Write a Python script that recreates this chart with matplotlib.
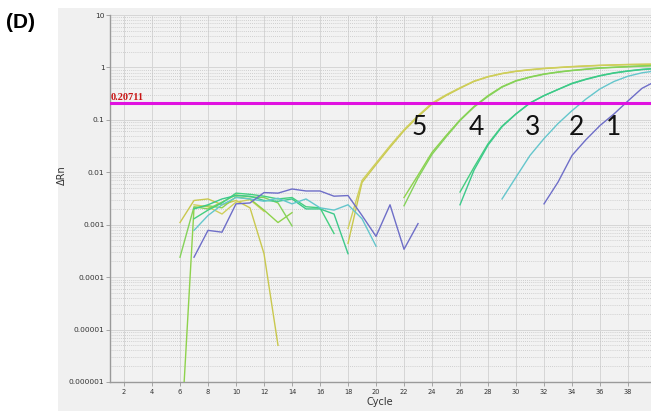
import numpy as np
import matplotlib
matplotlib.use('Agg')
import matplotlib.pyplot as plt
from matplotlib.patches import Rectangle
from matplotlib.ticker import FixedLocator, LogLocator, MultipleLocator, NullFormatter

# cycles 6 .. 40, None = no point (gap in the trace)
cycles = list(range(6, 41))

dil5_a = [0.0011, 0.0029, 0.0031, 0.0024, 0.0029, 0.0021, 0.00028, 0.000005,
          None, None, None, None, 0.00044, 0.0064, 0.014, 0.030, 0.062, 0.115,
          0.20, 0.29, 0.40, 0.54, 0.66, 0.76, 0.84, 0.90, 0.95, 0.99, 1.03,
          1.06, 1.09, 1.11, 1.13, 1.14, 1.15]
dil5_b = [None, 0.0024, 0.0022, 0.0016, 0.0027, 0.0030, 0.0018, None,
          None, None, None, None, 0.00085, 0.0070, 0.015, 0.032, 0.065, 0.12,
          0.21, 0.30, 0.41, 0.55, 0.67, 0.77, 0.85, 0.91, 0.96, 1.00, 1.04,
          1.07, 1.10, 1.12, 1.14, 1.15, 1.16]
dil4_a = [4e-8, 0.0021, 0.0023, 0.0021, 0.0034, 0.0031, 0.0019, 0.0011,
          0.0017, None, None, None, None, None, None, None, 0.0033, 0.0088,
          0.024, 0.050, 0.10, 0.18, 0.29, 0.43, 0.56, 0.66, 0.75, 0.82, 0.88,
          0.93, 0.98, 1.01, 1.04, 1.07, 1.09]
dil4_b = [0.00024, 0.0022, 0.0020, 0.0027, 0.0037, 0.0034, 0.0033, 0.0026,
          0.00095, None, None, None, None, None, None, None, 0.0023, 0.0078,
          0.022, 0.047, 0.097, 0.175, 0.28, 0.42, 0.55, 0.65, 0.74, 0.81,
          0.87, 0.92, 0.97, 1.00, 1.03, 1.06, 1.08]
dil3_a = [None, 0.0013, 0.0019, 0.0026, 0.0040, 0.0038, 0.0035, 0.0031,
          0.0033, 0.0022, 0.0021, 0.00068, None, None, None, None, None, None,
          None, None, 0.0042, 0.0125, 0.035, 0.076, 0.13, 0.21, 0.29, 0.38,
          0.50, 0.60, 0.70, 0.79, 0.86, 0.92, 0.96]
dil3_b = [None, 0.0020, 0.0024, 0.0031, 0.0036, 0.0035, 0.0029, 0.0028,
          0.0031, 0.0020, 0.0020, 0.0016, 0.00028, None, None, None, None,
          None, None, None, 0.0024, 0.011, 0.033, 0.074, 0.13, 0.21, 0.29,
          0.38, 0.49, 0.59, 0.69, 0.78, 0.85, 0.91, 0.95]
dil2 = [None, 0.00078, 0.0015, 0.0024, 0.0033, 0.0031, 0.0028, 0.0032,
        0.0025, 0.0031, 0.0021, 0.0019, 0.0024, 0.0013, 0.00039, None, None,
        None, None, None, None, None, None, 0.0031, 0.0081, 0.021, 0.044,
        0.085, 0.15, 0.25, 0.39, 0.54, 0.68, 0.79, 0.86]
dil1 = [None, 0.00024, 0.00078, 0.00072, 0.0025, 0.0026, 0.0041, 0.0040,
        0.0048, 0.0044, 0.0044, 0.0035, 0.0036, 0.0015, 0.00060, 0.0024,
        0.00034, 0.00105, None, None, None, None, None, None, None, None,
        0.0025, 0.0065, 0.021, 0.042, 0.078, 0.13, 0.23, 0.40, 0.55]

series = [
    (dil5_a, '#c9c84e'), (dil5_b, '#cfcf5a'),
    (dil4_a, '#8ed24c'), (dil4_b, '#84d25a'),
    (dil3_a, '#44cf80'), (dil3_b, '#3cc98a'),
    (dil2, '#64c6cc'),
    (dil1, '#6e6ec8'),
]

threshold = 0.20711
label_names = ['5', '4', '3', '2', '1']
label_cycles = [23.1, 27.15, 31.15, 34.3, 36.95]
label_level = 0.0716

y_ticks = [1e-6, 1e-5, 1e-4, 1e-3, 1e-2, 1e-1, 1, 10]
y_tick_labels = ['0.000001', '0.00001', '0.0001', '0.001', '0.01', '0.1', '1', '10']

fig = plt.figure(figsize=(6.51, 4.11), dpi=100)
fig.patch.set_facecolor('white')
panel = Rectangle((58 / 651, 0), 1, 403 / 411, transform=fig.transFigure,
                  facecolor='#f0f0f0', edgecolor='none', zorder=-10)
fig.add_artist(panel)

ax = fig.add_axes([110 / 651, 29 / 411, 541 / 651, 367 / 411])
ax.set_facecolor('#f2f2f2')

x = np.array(cycles, dtype=float)
for values, color in series:
    y = np.array([np.nan if v is None else v for v in values], dtype=float)
    ax.plot(x, y, color=color, lw=1.0, zorder=3)

ax.axhline(threshold, color='#e010e0', lw=2.2, zorder=4)
ax.text(1.05, threshold * 1.04, '0.20711', color='#c81414', fontsize=7.5,
        family='Liberation Serif', fontweight='bold', va='bottom', ha='left', zorder=5)

for name, c in zip(label_names, label_cycles):
    ax.text(c, label_level, name, fontsize=19, family='Lato', color='#111111',
            ha='center', va='center', zorder=5)

ax.set_yscale('log')
ax.set_ylim(1e-6, 10)
ax.set_xlim(1, 39.64)

ax.yaxis.set_major_locator(FixedLocator(y_ticks))
ax.set_yticklabels(y_tick_labels)
ax.yaxis.set_minor_locator(LogLocator(base=10, subs=np.arange(2, 10)))
ax.yaxis.set_minor_formatter(NullFormatter())
ax.xaxis.set_major_locator(MultipleLocator(2))

ax.tick_params(axis='y', which='major', labelsize=5.4, labelcolor='#333333', length=3,
               width=0.6, pad=1, color='#999999')
ax.tick_params(axis='x', which='major', labelsize=4.8, labelcolor='#333333', length=3,
               width=0.6, pad=2, color='#999999')
ax.tick_params(which='minor', length=0)

ax.grid(True, which='major', axis='both', color='#d6d6d6', lw=0.7, ls='-')
ax.grid(True, which='minor', axis='y', color='#c4c4c4', lw=0.6, ls=(0, (1, 1.5)))
ax.set_axisbelow(True)

for side in ['top', 'right']:
    ax.spines[side].set_visible(False)
for side in ['left', 'bottom']:
    ax.spines[side].set_color('#9a9a9a')
    ax.spines[side].set_linewidth(1.0)

fig.text(62 / 651, 1 - 175 / 411, 'ΔRn', rotation=90, fontsize=7, color='#333333',
         ha='center', va='center')
fig.text(380 / 651, 1 - 402 / 411, 'Cycle', fontsize=7, color='#333333',
         ha='center', va='center')
fig.text(6 / 651, 1 - 22 / 411, '(D)', fontsize=15, fontweight='bold',
         family='Liberation Sans', ha='left', va='center')

fig.savefig('out.png', dpi=100, facecolor='white')
